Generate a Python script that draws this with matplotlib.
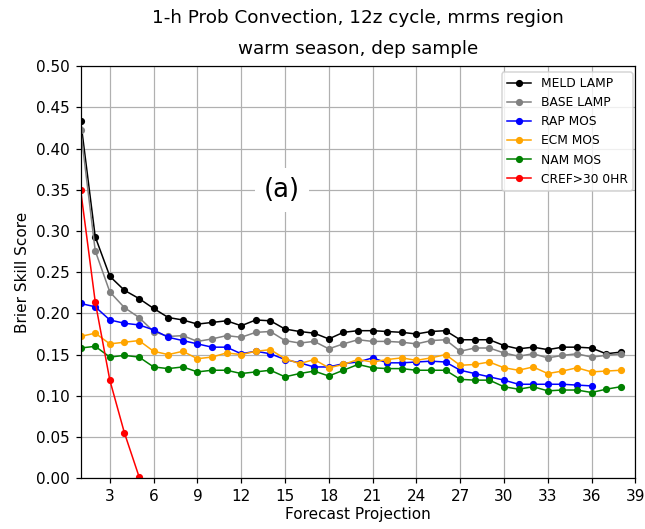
import matplotlib
matplotlib.use('Agg')
import matplotlib.pyplot as plt
import numpy as np

# forecast hours
hours = list(range(1, 39))

meld_lamp = [0.434, 0.293, 0.245, 0.228, 0.218, 0.206, 0.195, 0.192, 0.187, 0.189,
             0.191, 0.185, 0.192, 0.191, 0.181, 0.178, 0.176, 0.169, 0.177, 0.179,
             0.179, 0.178, 0.177, 0.175, 0.178, 0.179, 0.168, 0.168, 0.168, 0.161,
             0.157, 0.159, 0.156, 0.159, 0.159, 0.158, 0.151, 0.153]
base_lamp = [0.423, 0.276, 0.226, 0.207, 0.195, 0.178, 0.172, 0.173, 0.166, 0.169,
             0.173, 0.171, 0.177, 0.178, 0.167, 0.164, 0.166, 0.157, 0.163, 0.168,
             0.166, 0.166, 0.165, 0.163, 0.167, 0.168, 0.154, 0.158, 0.158, 0.152,
             0.148, 0.151, 0.146, 0.149, 0.151, 0.147, 0.149, 0.151]
rap_mos = [0.212, 0.208, 0.192, 0.188, 0.186, 0.180, 0.171, 0.167, 0.163, 0.159,
           0.159, 0.151, 0.154, 0.151, 0.144, 0.140, 0.135, 0.135, 0.139, 0.141,
           0.146, 0.140, 0.140, 0.141, 0.142, 0.141, 0.131, 0.127, 0.123, 0.119,
           0.114, 0.114, 0.114, 0.114, 0.113, 0.112]
ecm_mos = [0.172, 0.176, 0.163, 0.165, 0.167, 0.154, 0.150, 0.154, 0.145, 0.147,
           0.152, 0.150, 0.154, 0.156, 0.145, 0.139, 0.144, 0.134, 0.138, 0.144,
           0.141, 0.144, 0.146, 0.143, 0.146, 0.150, 0.137, 0.138, 0.141, 0.134,
           0.131, 0.135, 0.127, 0.130, 0.134, 0.129, 0.130, 0.131]
nam_mos = [0.158, 0.160, 0.147, 0.149, 0.147, 0.135, 0.133, 0.135, 0.129, 0.131,
           0.131, 0.127, 0.129, 0.131, 0.123, 0.127, 0.130, 0.124, 0.131, 0.138,
           0.134, 0.133, 0.133, 0.131, 0.131, 0.131, 0.120, 0.119, 0.119, 0.111,
           0.108, 0.111, 0.106, 0.107, 0.107, 0.104, 0.108, 0.111]
cref_0hr = [0.350, 0.214, 0.119, 0.055, 0.002]

series = [
    ('MELD LAMP', meld_lamp, 'black'),
    ('BASE LAMP', base_lamp, 'gray'),
    ('RAP MOS', rap_mos, 'blue'),
    ('ECM MOS', ecm_mos, 'orange'),
    ('NAM MOS', nam_mos, 'green'),
    ('CREF>30 0HR', cref_0hr, 'red'),
]

DPI = 110
fig = plt.figure(figsize=(645 / DPI, 529 / DPI), dpi=DPI)
ax = fig.add_axes([0.125, 0.096, 0.86, 0.779])

for name, vals, col in series:
    ax.plot(hours[:len(vals)], vals, color=col, marker='o', markersize=3.7,
            linewidth=1.0, label=name)

ax.set_xlim(1, 39)
ax.set_ylim(0, 0.5)
ax.set_xticks(range(3, 40, 3))
ax.set_yticks(np.arange(0, 0.501, 0.05))
ax.yaxis.set_major_formatter(matplotlib.ticker.FormatStrFormatter('%.2f'))
ax.grid(True, color='#b0b0b0', linewidth=0.8)
ax.set_axisbelow(True)
ax.tick_params(labelsize=10)

ax.set_title('1-h Prob Convection, 12z cycle, mrms region\nwarm season, dep sample',
             fontsize=12, linespacing=1.9, pad=8)
ax.set_xlabel('Forecast Projection', fontsize=10, labelpad=2)
ax.set_ylabel('Brier Skill Score', fontsize=10)

ax.text(14.8, 0.35, '(a)', fontsize=17, ha='center', va='center',
        bbox=dict(facecolor='white', edgecolor='none', pad=6))

ax.legend(loc='upper right', fontsize=8, bbox_to_anchor=(1.006, 1.0))

fig.savefig('out.png', dpi=DPI)
